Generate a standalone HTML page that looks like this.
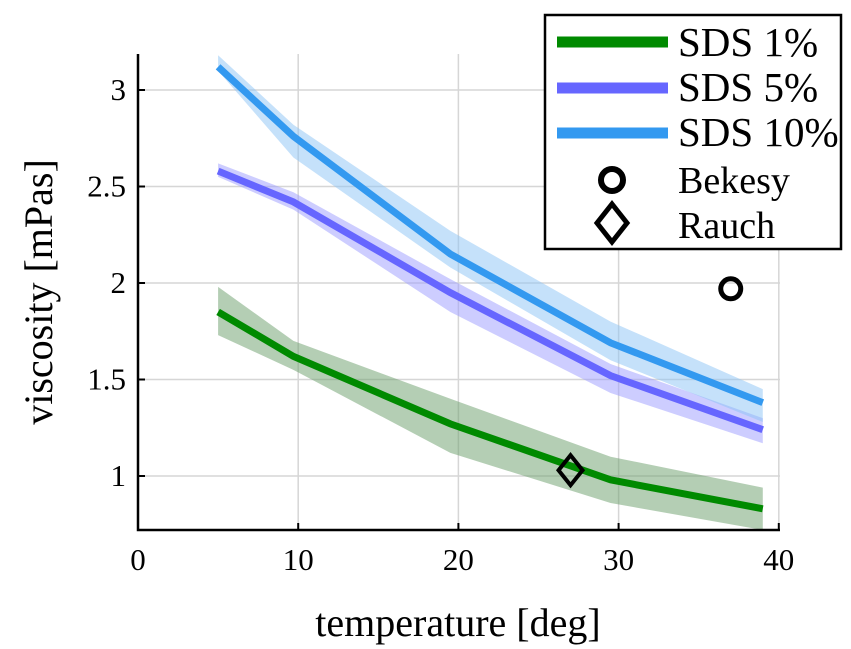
<!DOCTYPE html>
<html><head><meta charset="utf-8"><style>
html,body{margin:0;padding:0;background:#fff;}
svg{display:block;font-family:"Liberation Serif",serif;}
</style></head><body>
<svg id="chart" width="851" height="649" viewBox="0 0 851 649">
<g id="grid"></g>
<g id="bands"></g>
<g id="lines"></g>
<g id="axes"></g>
<g id="markers"></g>
<text x="458" y="636" font-size="40" text-anchor="middle">temperature [deg]</text>
<text transform="translate(52,292) rotate(-90)" font-size="40" text-anchor="middle">viscosity [mPas]</text>
<g>
<rect x="545" y="15" width="296" height="234" fill="#fff" stroke="#000" stroke-width="2.5"/>
<g><line x1="557" y1="42" x2="668" y2="42" stroke="#008a00" stroke-width="11"/><text x="678" y="56" font-size="41">SDS 1%</text></g>
<g><line x1="557" y1="88" x2="668" y2="88" stroke="#6666ff" stroke-width="11"/><text x="678" y="101" font-size="41">SDS 5%</text></g>
<g><line x1="557" y1="133" x2="668" y2="133" stroke="#3399f0" stroke-width="11"/><text x="678" y="146" font-size="41">SDS 10%</text></g>
<g><circle cx="612" cy="180" r="11" fill="none" stroke="#000" stroke-width="6"/><text x="678" y="193" font-size="38">Bekesy</text></g>
<g><path d="M612 204 L627 223 L612 242 L597 223 Z" fill="none" stroke="#000" stroke-width="5"/><text x="678" y="238" font-size="38">Rauch</text></g>
</g>
</svg>
<script>
const temps=[5,9.7,19.5,29.5,39];
const sds1=[1.85,1.62,1.27,0.98,0.83];
const sds1Lo=[1.73,1.55,1.12,0.86,0.72];
const sds1Hi=[1.98,1.70,1.40,1.10,0.94];
const sds5=[2.58,2.42,1.95,1.52,1.24];
const sds5Lo=[2.55,2.38,1.85,1.43,1.17];
const sds5Hi=[2.62,2.47,2.02,1.58,1.30];
const sds10=[3.12,2.76,2.15,1.69,1.38];
const sds10Lo=[3.10,2.65,2.08,1.60,1.28];
const sds10Hi=[3.18,2.82,2.27,1.80,1.45];
const bekesy=[37,1.97];
const rauch=[27,1.03];
const xTicks=[0,10,20,30,40];
const yTicks=[1,1.5,2,2.5,3];
const yTickLabels=["1","1.5","2","2.5","3"];

const NS="http://www.w3.org/2000/svg";
const X=v=>138+v*16.02;
const Y=v=>476-(v-1)*193;
function mk(tag,attrs,parent){const e=document.createElementNS(NS,tag);for(const k in attrs)e.setAttribute(k,attrs[k]);parent.appendChild(e);return e;}
const gridG=document.getElementById('grid'),axesG=document.getElementById('axes'),bandsG=document.getElementById('bands'),linesG=document.getElementById('lines'),markersG=document.getElementById('markers');
const yTop=54,yBottom=530,xLeft=138,xRight=780;
xTicks.forEach(t=>{
  if(t>0){const g=mk('line',{x1:X(t),x2:X(t),y1:yTop,y2:yBottom,stroke:'#d6d6d6','stroke-width':1.5},gridG);
  
  }
  const tk=mk('line',{x1:X(t),x2:X(t),y1:yBottom,y2:yBottom-7,stroke:'#000','stroke-width':2},axesG);
  
  
  const lb=mk('text',{x:X(t),y:570,'font-size':31,'text-anchor':'middle'},axesG);lb.textContent=t;
  
  
});
yTicks.forEach((t,i)=>{
  const g=mk('line',{x1:xLeft,x2:xRight,y1:Y(t),y2:Y(t),stroke:'#d6d6d6','stroke-width':1.5},gridG);
  
  
  const tk=mk('line',{x1:xLeft,x2:xLeft+7,y1:Y(t),y2:Y(t),stroke:'#000','stroke-width':2},axesG);
  
  
  const lb=mk('text',{x:xLeft-12,y:Y(t)+10,'font-size':31,'text-anchor':'end'},axesG);lb.textContent=yTickLabels[i];
  
  
});
const ax=mk('path',{d:`M${xLeft} ${yTop} L${xLeft} ${yBottom} L${xRight} ${yBottom}`,fill:'none',stroke:'#000','stroke-width':2.5},axesG);


const series=[[sds1,sds1Lo,sds1Hi,'#008a00','#6a9e6a','sds-1'],[sds5,sds5Lo,sds5Hi,'#6666ff','#9c9cff','sds-5'],[sds10,sds10Lo,sds10Hi,'#3399f0','#8cc3f5','sds-10']];
series.forEach(s=>{
  const [m,lo,hi,c,bc,name]=s;
  let d='M'+temps.map((t,i)=>X(t)+' '+Y(hi[i])).join(' L')+' L'+temps.map((t,i)=>X(t)+' '+Y(lo[i])).reverse().join(' L')+' Z';
  const b=mk('path',{d:d,fill:bc,'fill-opacity':0.5,stroke:'none'},bandsG);
  
  
  const l=mk('polyline',{points:temps.map((t,i)=>X(t)+','+Y(m[i])).join(' '),fill:'none',stroke:c,'stroke-width':7},linesG);
  
  
});
const bk=mk('circle',{cx:X(bekesy[0]),cy:Y(bekesy[1]),r:10,fill:'none',stroke:'#000','stroke-width':5},markersG);


const rx=X(rauch[0]),ry=Y(rauch[1]);
const rc=mk('path',{d:`M${rx} ${ry-15} L${rx+12} ${ry} L${rx} ${ry+15} L${rx-12} ${ry} Z`,fill:'none',stroke:'#000','stroke-width':4},markersG);


</script>
</body></html>
